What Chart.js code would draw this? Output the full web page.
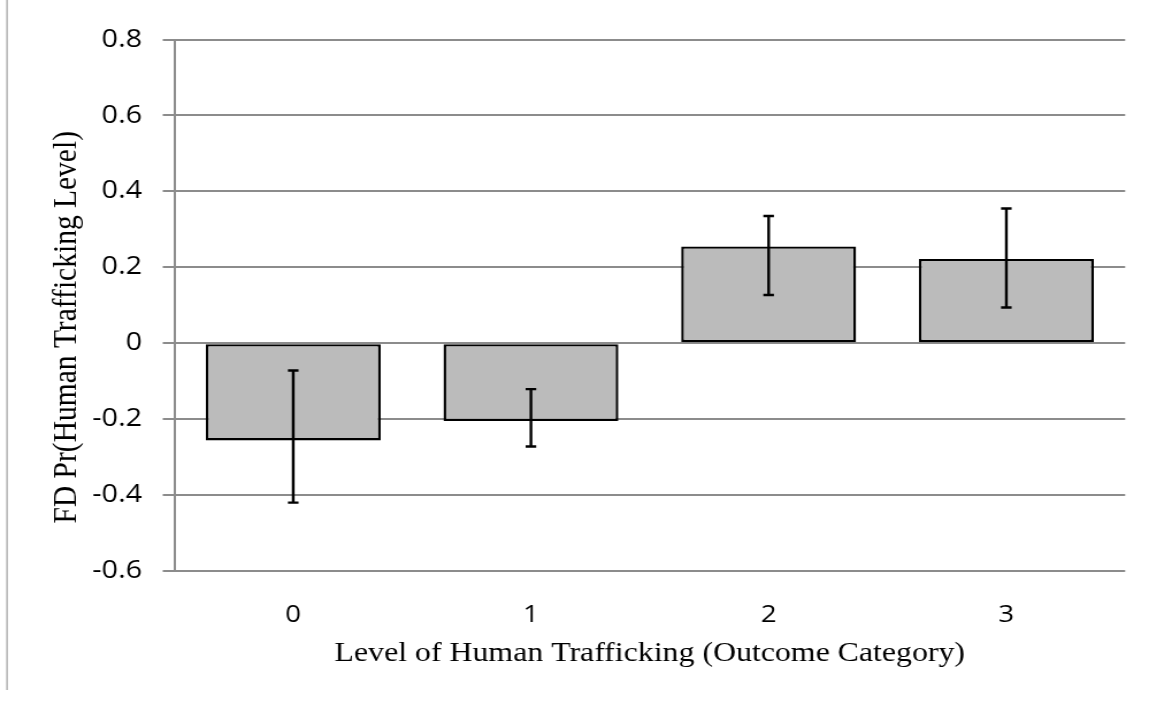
<!DOCTYPE html>
<html>
<head>
<meta charset="utf-8">
<style>
  html, body { margin: 0; padding: 0; background: #fff; overflow: hidden; }
</style>
<script src="https://cdn.jsdelivr.net/npm/chart.js@4.4.1/dist/chart.umd.min.js"></script>
</head>
<body>
<!-- drawing surface is 999 px wide, shown 1149 px wide (wide-set page scan) -->
<canvas id="c" width="999" height="713" style="display:block;width:1149px;height:713px"></canvas>
<script>
// First-difference estimates by outcome category, with confidence bounds
const categories  = ['0', '1', '2', '3'];
const fdValues    = [-0.256, -0.205, 0.255, 0.222];
const ciLower     = [-0.420, -0.272, 0.127, 0.094];
const ciUpper     = [-0.072, -0.121, 0.335, 0.355];

const yTickValues = [-0.6, -0.4, -0.2, 0, 0.2, 0.4, 0.6, 0.8];
const yTickLabels = ['-0.6', '-0.4', '-0.2', '0', '0.2', '0.4', '0.6', '0.8'];

const xAxisTitle = 'Level of Human Trafficking (Outcome Category)';
const yAxisTitle = 'FD Pr(Human Trafficking Level)';

const GRID = '#8c8c8c';
const SERIF = '"Liberation Serif", "Times New Roman", serif';

// thin rule down the left edge of the page
const pageRule = {
  id: 'pageRule',
  beforeDraw(chart) {
    const ctx = chart.ctx;
    ctx.save();
    ctx.strokeStyle = '#a6a6a6';
    ctx.lineWidth = 1.3;
    ctx.beginPath();
    ctx.moveTo(6.1, 0);
    ctx.lineTo(6.1, 690);
    ctx.stroke();
    ctx.restore();
  }
};

// vertical axis title, set a little below the plot's middle
const yTitle = {
  id: 'yTitle',
  afterDraw(chart) {
    const ctx = chart.ctx;
    const area = chart.chartArea;
    ctx.save();
    ctx.translate(57.8, (area.top + area.bottom) / 2 + 22);
    ctx.rotate(-Math.PI / 2);
    ctx.font = '29.5px ' + SERIF;
    ctx.fillStyle = '#000';
    ctx.textAlign = 'center';
    ctx.textBaseline = 'middle';
    ctx.fillText(yAxisTitle, 0, 0);
    ctx.restore();
  }
};

// capped error bars from ciLower / ciUpper through the y scale
const errorBars = {
  id: 'errorBars',
  afterDatasetsDraw(chart) {
    const ctx = chart.ctx;
    const y = chart.scales.y;
    const meta = chart.getDatasetMeta(0);
    ctx.save();
    ctx.strokeStyle = '#000';
    ctx.lineWidth = 2.4;
    meta.data.forEach((bar, i) => {
      const x = bar.x;
      const yHi = y.getPixelForValue(ciUpper[i]);
      const yLo = y.getPixelForValue(ciLower[i]);
      const half = 4.6;
      ctx.beginPath();
      ctx.moveTo(x, yHi); ctx.lineTo(x, yLo);
      ctx.moveTo(x - half, yHi); ctx.lineTo(x + half, yHi);
      ctx.moveTo(x - half, yLo); ctx.lineTo(x + half, yLo);
      ctx.stroke();
    });
    ctx.restore();
  }
};

new Chart(document.getElementById('c'), {
  type: 'bar',
  data: {
    labels: categories,
    datasets: [{
      data: fdValues,
      backgroundColor: '#bbbbbb',
      borderColor: '#000000',
      borderWidth: 2.4,
      borderSkipped: false,
      categoryPercentage: 1.0,
      barPercentage: 0.736
    }]
  },
  options: {
    responsive: false,
    devicePixelRatio: 1,
    animation: false,
    layout: { padding: { left: 0, right: 20.7, top: 39.5, bottom: 32 } },
    plugins: {
      legend: { display: false },
      tooltip: { enabled: false },
      title: { display: false }
    },
    scales: {
      x: {
        offset: true,
        grid: { display: false, drawTicks: false },
        border: { display: false },
        ticks: {
          color: '#000',
          padding: 29.6,
          font: { family: '"Open Sans", sans-serif', size: 24 }
        },
        title: {
          display: true,
          text: xAxisTitle,
          color: '#000',
          padding: { top: 0, bottom: 10.7 },
          font: { family: SERIF, size: 27.7, lineHeight: 1.2 }
        },
        afterFit(scale) { scale.height = 110; }
      },
      y: {
        min: -0.6,
        max: 0.8,
        afterBuildTicks(scale) {
          scale.ticks = yTickValues.map(v => ({ value: v }));
        },
        grid: {
          color: GRID,
          lineWidth: 2,
          drawTicks: true,
          tickLength: 10.1,
          tickColor: GRID
        },
        border: { display: true, color: GRID, width: 2 },
        ticks: {
          color: '#000',
          padding: 18,
          font: { family: '"Open Sans", sans-serif', size: 25 },
          callback: (value, index) => yTickLabels[index]
        },
        title: { display: false },
        afterFit(scale) { scale.width = 151.6; }
      }
    }
  },
  plugins: [pageRule, errorBars, yTitle]
});
</script>
</body>
</html>
